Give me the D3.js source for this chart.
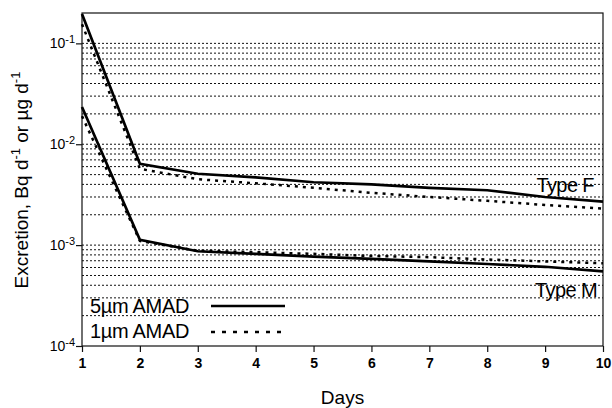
<!DOCTYPE html>
<html>
<head>
<meta charset="utf-8">
<script src="https://cdn.jsdelivr.net/npm/d3@7"></script>
<style>
  body { margin: 0; background: #fff; }
  svg { font-family: "Liberation Sans", Arial, sans-serif; }
</style>
</head>
<body>
<svg width="612" height="408"></svg>
<script>
// datos
const days = [1, 2, 3, 4, 5, 6, 7, 8, 9, 10];
const typeF5 = [0.195, 0.0064, 0.0051, 0.0047, 0.0042, 0.0040, 0.0037, 0.0035, 0.0030, 0.0027];
const typeF1 = [0.155, 0.0057, 0.0045, 0.0041, 0.0037, 0.0033, 0.0030, 0.00275, 0.0025, 0.0023];
const typeM5 = [0.0234, 0.00113, 0.00087, 0.00082, 0.00077, 0.00073, 0.00069, 0.00065, 0.00061, 0.00055];
const typeM1 = [0.0190, 0.00110, 0.00088, 0.00085, 0.00082, 0.00078, 0.00076, 0.00072, 0.00069, 0.00066];
const yTicks = [1e-4, 1e-3, 1e-2, 1e-1];
const yTickExp = ["-4", "-3", "-2", "-1"];
const legendLabels = ["5\u00b5m AMAD", "1\u00b5m AMAD"];

const svg = d3.select("svg");
const pLeft = 82, pRight = 603, pTop = 13, pBottom = 346;

const x = d3.scaleLinear().domain([1, 10]).range([pLeft, pRight]);
const y = d3.scaleLog().domain([1e-4, 0.2]).range([pBottom, pTop]);

// lineas de rejilla punteadas
const grid = [];
for (let e = -4; e <= -1; e++) {
  for (let k = 1; k <= 9; k++) {
    const v = k * Math.pow(10, e);
    if (v > 1.0001e-4 && v < 0.19) grid.push(v);
  }
}
svg.append("g")
  .selectAll("line")
  .data(grid)
  .enter()
  .append("line")
  .attr("x1", pLeft).attr("x2", pRight)
  .attr("y1", d => y(d)).attr("y2", d => y(d))
  .attr("stroke", "#111")
  .attr("stroke-width", 1)
  .attr("stroke-dasharray", "2,2");

// marco
svg.append("rect")
  .attr("x", pLeft).attr("y", pTop)
  .attr("width", pRight - pLeft).attr("height", pBottom - pTop)
  .attr("fill", "none").attr("stroke", "#111").attr("stroke-width", 1.2);

// eje x
const xAxis = svg.append("g")
  .attr("transform", `translate(0,${pBottom})`)
  .call(d3.axisBottom(x).tickValues(days).tickSize(6).tickPadding(6).tickFormat(d3.format("d")));
xAxis.select(".domain").remove();
xAxis.selectAll("line").attr("stroke", "#111").attr("stroke-width", 1.2);
xAxis.selectAll("text")
  .attr("font-size", 14).attr("font-weight", "bold")
  .attr("font-family", "Liberation Sans, Arial, sans-serif").attr("fill", "#000");

// eje y
const yAxis = svg.append("g")
  .attr("transform", `translate(${pLeft},0)`)
  .call(d3.axisLeft(y).tickValues(yTicks).tickSize(6).tickFormat(""));
yAxis.select(".domain").remove();
yAxis.selectAll("line").attr("stroke", "#111").attr("stroke-width", 1.2);

const yl = svg.append("g").selectAll("text")
  .data(yTicks)
  .enter()
  .append("text")
  .attr("x", 75)
  .attr("y", d => y(d) + 5)
  .attr("text-anchor", "end")
  .attr("font-size", 14)
  .attr("fill", "#000")
  .text("10");
yl.append("tspan")
  .attr("font-size", 11)
  .attr("dy", -5)
  .text((d, i) => yTickExp[i]);

// titulos de ejes
svg.append("text")
  .attr("x", (pLeft + pRight) / 2)
  .attr("y", 404)
  .attr("text-anchor", "middle")
  .attr("font-size", 19)
  .attr("fill", "#000")
  .text("Days");

const yt = svg.append("text")
  .attr("transform", "translate(28,180) rotate(-90)")
  .attr("text-anchor", "middle")
  .attr("font-size", 19)
  .attr("fill", "#000");
yt.append("tspan").text("Excretion, Bq d");
yt.append("tspan").attr("font-size", 13).attr("dy", -8).text("-1");
yt.append("tspan").attr("dy", 8).text(" or \u00b5g d");
yt.append("tspan").attr("font-size", 13).attr("dy", -8).text("-1");

// curvas
const line = d3.line()
  .x((d, i) => x(days[i]))
  .y(d => y(d));

const series = [
  { values: typeF5, dash: null },
  { values: typeM5, dash: null },
  { values: typeF1, dash: "3,5" },
  { values: typeM1, dash: "3,5" }
];

svg.append("g")
  .selectAll("path")
  .data(series)
  .enter()
  .append("path")
  .attr("d", d => line(d.values))
  .attr("fill", "none")
  .attr("stroke", "#000")
  .attr("stroke-width", d => d.dash ? 2.5 : 2.7)
  .attr("stroke-dasharray", d => d.dash);

// etiquetas de tipo
svg.append("text")
  .attr("x", 594).attr("y", 192)
  .attr("text-anchor", "end")
  .attr("font-size", 20).attr("letter-spacing", -0.6)
  .attr("fill", "#000")
  .text("Type F");
svg.append("text")
  .attr("x", 597).attr("y", 297)
  .attr("text-anchor", "end")
  .attr("font-size", 20).attr("letter-spacing", -0.6)
  .attr("fill", "#000")
  .text("Type M");

// leyenda
const leg = svg.append("g")
  .selectAll("g")
  .data(legendLabels)
  .enter()
  .append("g")
  .attr("transform", (d, i) => `translate(0,${306 + i * 25})`);
leg.append("text")
  .attr("x", 90).attr("y", 7)
  .attr("font-size", 20).attr("letter-spacing", -0.3)
  .attr("fill", "#000")
  .text(d => d);
leg.append("line")
  .attr("x1", 211).attr("x2", 285)
  .attr("y1", (d, i) => i === 0 ? 0 : 1).attr("y2", (d, i) => i === 0 ? 0 : 1)
  .attr("stroke", "#000")
  .attr("stroke-width", 2.5)
  .attr("stroke-dasharray", (d, i) => i === 0 ? null : "4,7");
</script>
</body>
</html>
